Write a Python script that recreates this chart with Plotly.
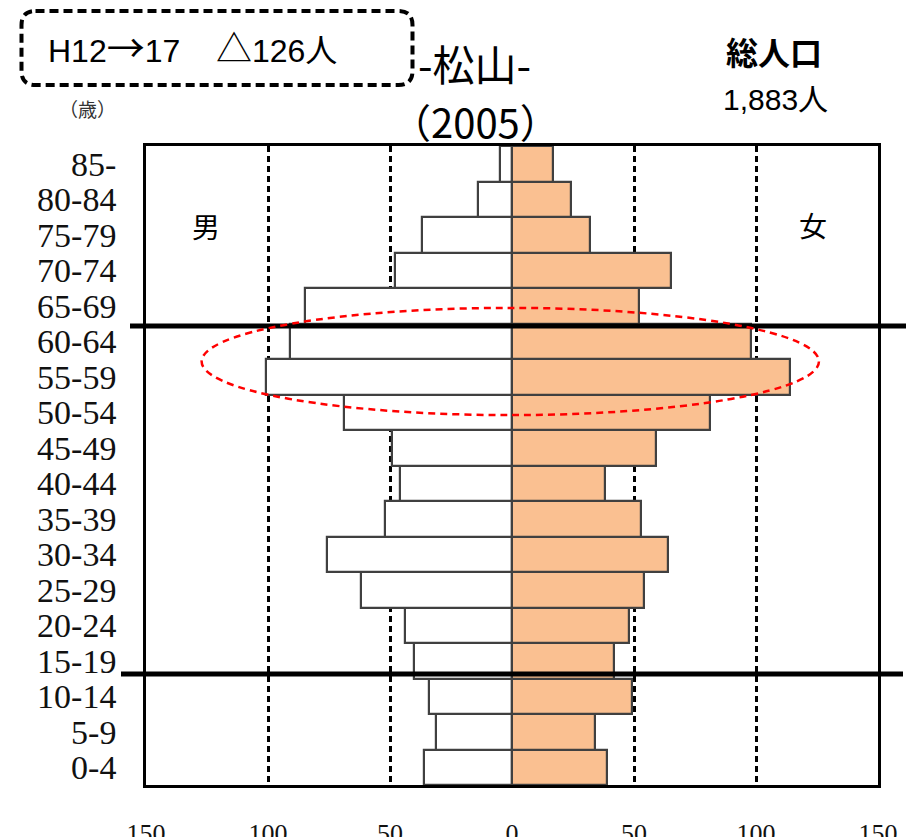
import plotly.graph_objects as go

# ---------------- data ----------------
ages = ["0-4", "5-9", "10-14", "15-19", "20-24", "25-29", "30-34", "35-39",
        "40-44", "45-49", "50-54", "55-59", "60-64", "65-69", "70-74",
        "75-79", "80-84", "85-"]
male = [36, 31, 34, 40, 44, 62, 76, 52, 46, 49, 69, 101, 91, 85, 48, 37, 14, 5]
female = [39, 34, 49, 42, 48, 54, 64, 53, 38, 59, 81, 114, 98, 52, 65, 32, 24, 17]
x_ticks = [-150, -100, -50, 0, 50, 100, 150]
x_tick_labels = ["150", "100", "50", "0", "50", "100", "150"]

# ---------------- geometry helpers ----------------
W_PX, H_PX = 920, 837
ML, MR, MT, MB = 146, 42, 146, 52
PW = W_PX - ML - MR
PH = H_PX - MT - MB


def px(x):
    return (x - ML) / PW


def py(y):
    return (H_PX - MB - y) / PH


EDGE = "#404040"
PEACH = "#FAC091"

fig = go.Figure()
fig.add_trace(go.Bar(
    y=ages, x=[-v for v in male], orientation="h", name="男",
    marker=dict(color="white", line=dict(color=EDGE, width=2.2)),
    width=1.0, customdata=male,
    hovertemplate="%{y}: %{customdata}<extra>男</extra>",
))
fig.add_trace(go.Bar(
    y=ages, x=female, orientation="h", name="女",
    marker=dict(color=PEACH, line=dict(color=EDGE, width=2.2)),
    width=1.0,
    hovertemplate="%{y}: %{x}<extra>女</extra>",
))

serif = "Liberation Serif, DejaVu Serif, serif"
cjk = "Noto Sans CJK JP, sans-serif"

fig.update_layout(
    width=W_PX, height=H_PX,
    margin=dict(l=ML, r=MR, t=MT, b=MB, pad=0),
    paper_bgcolor="white", plot_bgcolor="white",
    barmode="overlay", bargap=0, showlegend=False,
    xaxis=dict(
        range=[-150, 150], tickmode="array", tickvals=x_ticks, ticktext=x_tick_labels,
        showgrid=True, gridcolor="black", gridwidth=2.5, griddash="6px,4px",
        zeroline=False, showline=True, linecolor="black", linewidth=3,
        mirror=True, ticks="", automargin=False, ticklabelstandoff=23,
        tickfont=dict(family=serif, size=26, color="#111"),
        fixedrange=True,
    ),
    yaxis=dict(
        categoryorder="array", categoryarray=ages, range=[-0.5, 17.5],
        tickmode="array", tickvals=ages, ticktext=ages,
        showgrid=False, zeroline=False, showline=True, linecolor="black",
        linewidth=2.5, mirror=True, ticks="", automargin=False,
        ticklabelstandoff=20,
        tickfont=dict(family=serif, size=34, color="#111"),
        fixedrange=True,
    ),
)

shapes = []
# thick separator lines
shapes.append(dict(type="line", xref="paper", yref="y", x0=px(130), x1=px(906),
                   y0=12.43, y1=12.43, line=dict(color="black", width=5), layer="above"))
shapes.append(dict(type="line", xref="paper", yref="y", x0=px(121), x1=px(903),
                   y0=2.63, y1=2.63, line=dict(color="black", width=5), layer="above"))
# red dashed ellipse
shapes.append(dict(type="circle", xref="x", yref="y", x0=-127.2, x1=125.8,
                   y0=9.92, y1=12.94, line=dict(color="red", width=2.5, dash="7px,5px"),
                   layer="above"))

# rounded dashed box
x0, x1, y0, y1, r = 21.5, 412.5, 11, 85, 14
pts = [
    ("M", [(x0 + r, y0)]), ("L", [(x1 - r, y0)]), ("Q", [(x1, y0), (x1, y0 + r)]),
    ("L", [(x1, y1 - r)]), ("Q", [(x1, y1), (x1 - r, y1)]), ("L", [(x0 + r, y1)]),
    ("Q", [(x0, y1), (x0, y1 - r)]), ("L", [(x0, y0 + r)]), ("Q", [(x0, y0), (x0 + r, y0)]),
]
path = ""
for cmd, ps in pts:
    path += cmd + " " + " ".join(f"{px(a):.5f},{py(b):.5f}" for a, b in ps) + " "
path += "Z"
shapes.append(dict(type="path", xref="paper", yref="paper", path=path,
                   fillcolor="white", line=dict(color="black", width=4, dash="9px,5px"),
                   layer="above"))
fig.update_layout(shapes=shapes)

box_text = ('H12<span style="font-family:Noto Sans CJK JP;font-size:38px">→</span>17'
            '\u00a0\u00a0\u00a0\u00a0<span style="font-family:Noto Sans CJK JP;font-size:36px">△</span>126人')

annots = [
    dict(text=box_text, x=px(46), y=py(46), xanchor="left", yanchor="middle",
         font=dict(family="Liberation Sans, " + cjk, size=32, color="black")),
    dict(text="-松山-", x=px(474), y=py(63), xanchor="center", yanchor="middle",
         font=dict(family=cjk, size=42, color="black")),
    dict(text="（2005）", x=px(475), y=py(121), xanchor="center", yanchor="middle",
         font=dict(family=cjk, size=40, color="black")),
    dict(text="<b>総人口</b>", x=px(774), y=py(51), xanchor="center", yanchor="middle",
         font=dict(family=cjk, size=32, color="black")),
    dict(text="1,883人", x=px(775), y=py(99), xanchor="center", yanchor="middle",
         font=dict(family="Liberation Sans, " + cjk, size=30, color="black")),
    dict(text="（歳）", x=px(87), y=py(108), xanchor="center", yanchor="middle",
         font=dict(family=cjk, size=19, color="#333")),
    dict(text="男", x=px(206), y=py(226), xanchor="center", yanchor="middle",
         font=dict(family=cjk, size=28, color="black")),
    dict(text="女", x=px(813), y=py(225), xanchor="center", yanchor="middle",
         font=dict(family=cjk, size=28, color="black")),
]
for a in annots:
    a.update(xref="paper", yref="paper", showarrow=False)
fig.update_layout(annotations=annots)

fig.write_html("out.html")
